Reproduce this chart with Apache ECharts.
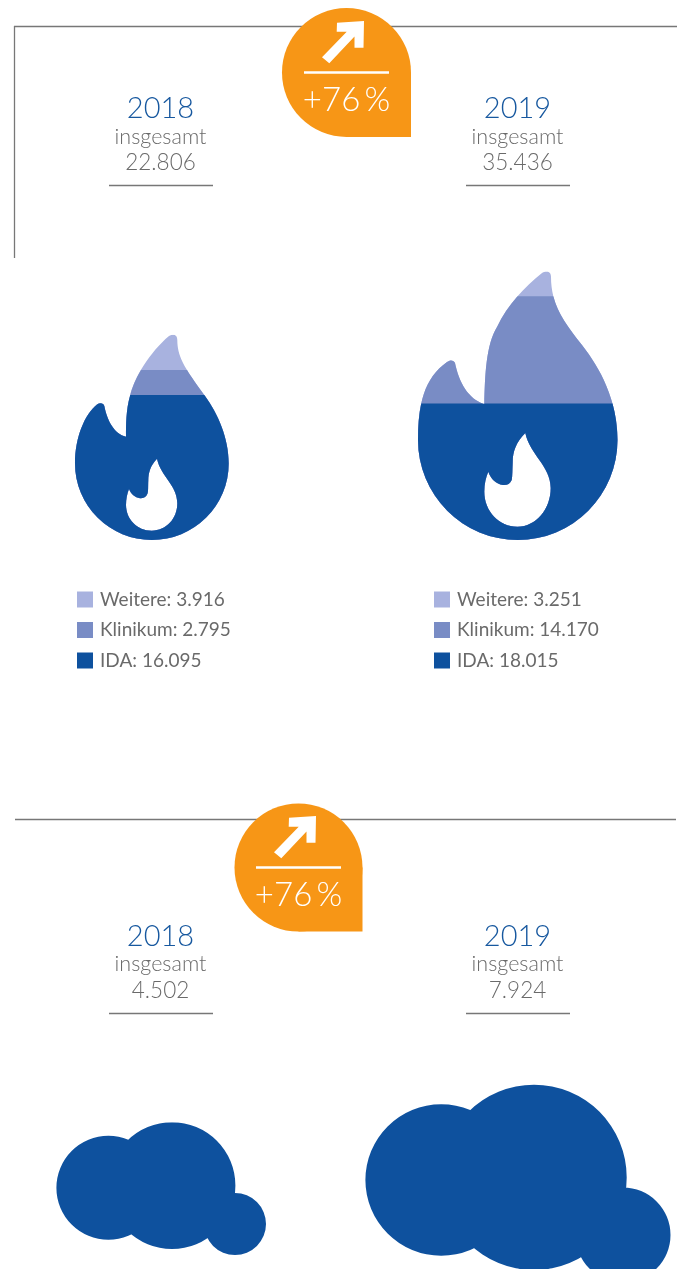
<!DOCTYPE html>
<html>
<head>
<meta charset="utf-8">
<style>html,body{margin:0;padding:0;background:#fff}#chart1{width:681px;height:1269px}</style>
<script src="https://cdn.jsdelivr.net/npm/echarts@6/dist/echarts.min.js"></script>
</head>
<body>
<div id="chart1"></div>
<script>
var years = ['2018', '2019'];
var layerNames = ['IDA', 'Klinikum', 'Weitere'];
var ida = [16095, 18015];
var klinikum = [2795, 14170];
var weitere = [3916, 3251];
var fireTotals = [22806, 35436];
var cloudTotals = [4502, 7924];
var changeLabels = ['+76\u2009%', '+76\u2009%'];

var dark = '#0e519e', mid = '#798cc5', light = '#a8b2df', gray = '#6a6a6a', orange = '#f79616';
var fontName = 'Lato';

var flame2018 = 'path://M173.3 334.7C176 334.7 177.3 337 177.3 340C177.5 356 183 366 205 396C218 414 228.7 438 228.7 463.5'
    + 'A76.85 76.5 0 0 1 75 463.5C75 437 85 414 97 404.5C100 402.5 103.5 403 104.3 406C107 420 114 434 126 436.7'
    + 'C126 425 126 410 130 396C134 378 150 352 169 336C170.5 335 172 334.7 173.3 334.7Z'
    + 'M157 458.7C150 466 148.5 473 148.3 480C148 486 148.5 492 147.3 494C146 497.5 143 498.5 140 498.3C135 497.5 131 494 129 489'
    + 'C127 494 126 499 126 505C126 519 137 530.7 151.7 530.7C166 530.7 177.3 519 177.3 503.3C177.3 485 161 477 157 458.7Z';

var flame2019 = 'path://M546.7 271.5C549.5 271.5 551 274 551 276.7C551 305 564 322 582 345C600 368 617.5 400 617.5 440'
    + 'A99.75 100 0 0 1 418 440C418 405 424 378 447 362C450 359.5 454 360 455 363C459 382 468 399 484.3 404'
    + 'C485 375 486 345 497 327C507 305 525 287 541.7 273.3C543 272 545 271.5 546.7 271.5Z'
    + 'M525.3 433C516 442 512.7 452 512.7 462C512.3 470 512.5 476 511.7 480C510 484 507 485.3 503 485C496 484 491 479 488.3 471.7'
    + 'C486 477 484.3 484 484.3 491.7C484.3 511 499 526.7 517.5 526.7C536 526.7 550.7 509 550.7 488C550.7 466 530 455 525.3 433Z';

function circlePath(cx, cy, r) {
    return 'M' + (cx - r) + ' ' + cy + 'A' + r + ' ' + r + ' 0 1 1 ' + (cx + r) + ' ' + cy + 'A' + r + ' ' + r + ' 0 1 1 ' + (cx - r) + ' ' + cy + 'Z';
}
var cloud2018 = 'path://' + circlePath(108.4, 1187.8, 52) + circlePath(172, 1185.6, 63.4) + circlePath(235, 1224, 31);
var cloud2019 = 'path://' + circlePath(441.2, 1180, 75.8) + circlePath(534, 1177.4, 92.7) + circlePath(623, 1235, 47.5);

function fmt(v) {
    return String(v).replace(/\B(?=(\d{3})+$)/g, '.');
}

var chart = echarts.init(document.getElementById('chart1'));

// last cloud runs off the page, so its grid stops at the page edge
var grids = [
    { left: 75, top: 334.7, width: 153.7, height: 205.3 },
    { left: 418, top: 271.5, width: 199.5, height: 268.5 },
    { left: 56.4, top: 1122.2, width: 209.6, height: 132.8 },
    { left: 365.4, top: 1084.7, width: 305.1, height: 184.3 }
];
var xAxes = [], yAxes = [], series = [], legends = [];
var maxes = [fireTotals[0], fireTotals[1], cloudTotals[0], cloudTotals[1]];
var cats = [years[0], years[1], years[0], years[1]];
grids.forEach(function (g, i) {
    xAxes.push({ type: 'category', gridIndex: i, data: [cats[i]], show: false });
    yAxes.push({ type: 'value', gridIndex: i, min: 0, max: maxes[i], show: false });
});

function pict(name, i, value, symbol, color, total) {
    return {
        name: name,
        type: 'pictorialBar',
        xAxisIndex: i,
        yAxisIndex: i,
        barWidth: '100%',
        barGap: '-100%',
        symbol: symbol,
        symbolSize: ['100%', '100%'],
        symbolClip: true,
        symbolBoundingData: total,
        itemStyle: { color: color },
        silent: true,
        data: [value]
    };
}

var flames = [flame2018, flame2019];
var legendLeft = [77, 434];
for (var i = 0; i < 2; i++) {
    var nW = layerNames[2] + ': ' + fmt(weitere[i]);
    var nK = layerNames[1] + ': ' + fmt(klinikum[i]);
    var nI = layerNames[0] + ': ' + fmt(ida[i]);
    // layers are overlaid, biggest first
    series.push(pict(nW, i, ida[i] + klinikum[i] + weitere[i], flames[i], light, fireTotals[i]));
    series.push(pict(nK, i, ida[i] + klinikum[i], flames[i], mid, fireTotals[i]));
    series.push(pict(nI, i, ida[i], flames[i], dark, fireTotals[i]));
    legends.push({
        orient: 'vertical',
        left: legendLeft[i],
        top: 590,
        padding: 0,
        itemWidth: 16,
        itemHeight: 16,
        itemGap: 11.5,
        icon: 'rect',
        selectedMode: false,
        data: [nW, nK, nI],
        textStyle: { color: gray, fontFamily: fontName, fontSize: 19, fontWeight: 400, lineHeight: 16, padding: [0, 0, 0, 2] }
    });
}
series.push(pict('Wolke ' + years[0], 2, cloudTotals[0], cloud2018, dark, cloudTotals[0]));
var lastCloud = pict('Wolke ' + years[1], 3, cloudTotals[1], cloud2019, dark, cloudTotals[1]);
lastCloud.symbolClip = false;
lastCloud.symbolBoundingData = undefined;
lastCloud.symbolSize = [305.1, 197.8];
lastCloud.symbolPosition = 'end';
series.push(lastCloud);

function line(x1, y1, x2, y2) {
    return { type: 'line', z: 1, shape: { x1: x1, y1: y1, x2: x2, y2: y2 }, style: { stroke: '#777', lineWidth: 1.3 } };
}
function txt(t, x, y, size, color, weight) {
    return {
        type: 'text', z: 5, x: x, y: y,
        style: { text: t, fill: color, font: (weight || 400) + ' ' + size + 'px ' + fontName, textAlign: 'center', textVerticalAlign: 'middle' }
    };
}
function badge(cx, cy, r, label) {
    return {
        type: 'group', x: cx, y: cy,
        children: [
            { type: 'circle', z: 10, shape: { cx: 0, cy: 0, r: r }, style: { fill: orange } },
            { type: 'rect', z: 10, shape: { x: 0, y: 0, width: r, height: r }, style: { fill: orange } },
            { type: 'polygon', z: 11, shape: { points: [[-9.5, -49.8], [17.5, -51.5], [17, -24.8], [8, -24.8], [8, -36], [-17.2, -9.2], [-24.5, -15.2], [0.2, -40.8], [-9.8, -40.8]] }, style: { fill: '#fff' } },
            { type: 'rect', z: 11, shape: { x: -42.5, y: -1.2, width: 85, height: 2.4 }, style: { fill: '#fff' } },
            { type: 'text', z: 11, x: 0, y: 28, style: { text: label, fill: '#fff', font: '300 33px ' + fontName, textAlign: 'center', textVerticalAlign: 'middle' } }
        ]
    };
}

var centers = [160.5, 517.5];
var graphicEls = [
    line(14.5, 26, 14.5, 258), line(14, 26.5, 677, 26.5), line(15, 819.5, 676, 819.5),
    line(109, 185.5, 213, 185.5), line(466, 185.5, 570, 185.5),
    line(109, 1013.5, 213, 1013.5), line(466, 1013.5, 570, 1013.5),
    badge(346.5, 72.5, 64.5, changeLabels[0]),
    badge(298.5, 867.5, 64, changeLabels[1])
];
for (var j = 0; j < 2; j++) {
    graphicEls.push(txt(years[j], centers[j], 109, 29, '#17589f', 300));
    graphicEls.push(txt('insgesamt', centers[j], 137, 21.5, gray, 300));
    graphicEls.push(txt(fmt(fireTotals[j]), centers[j], 163, 22.5, gray, 300));
    graphicEls.push(txt(years[j], centers[j], 937, 29, '#17589f', 300));
    graphicEls.push(txt('insgesamt', centers[j], 964, 21.5, gray, 300));
    graphicEls.push(txt(fmt(cloudTotals[j]), centers[j], 991, 22.5, gray, 300));
}

var option = {
    animation: false,
    backgroundColor: '#fff',
    grid: grids,
    xAxis: xAxes,
    yAxis: yAxes,
    legend: legends,
    series: series,
    graphic: { elements: graphicEls }
};

chart.setOption(option);
</script>
</body>
</html>
